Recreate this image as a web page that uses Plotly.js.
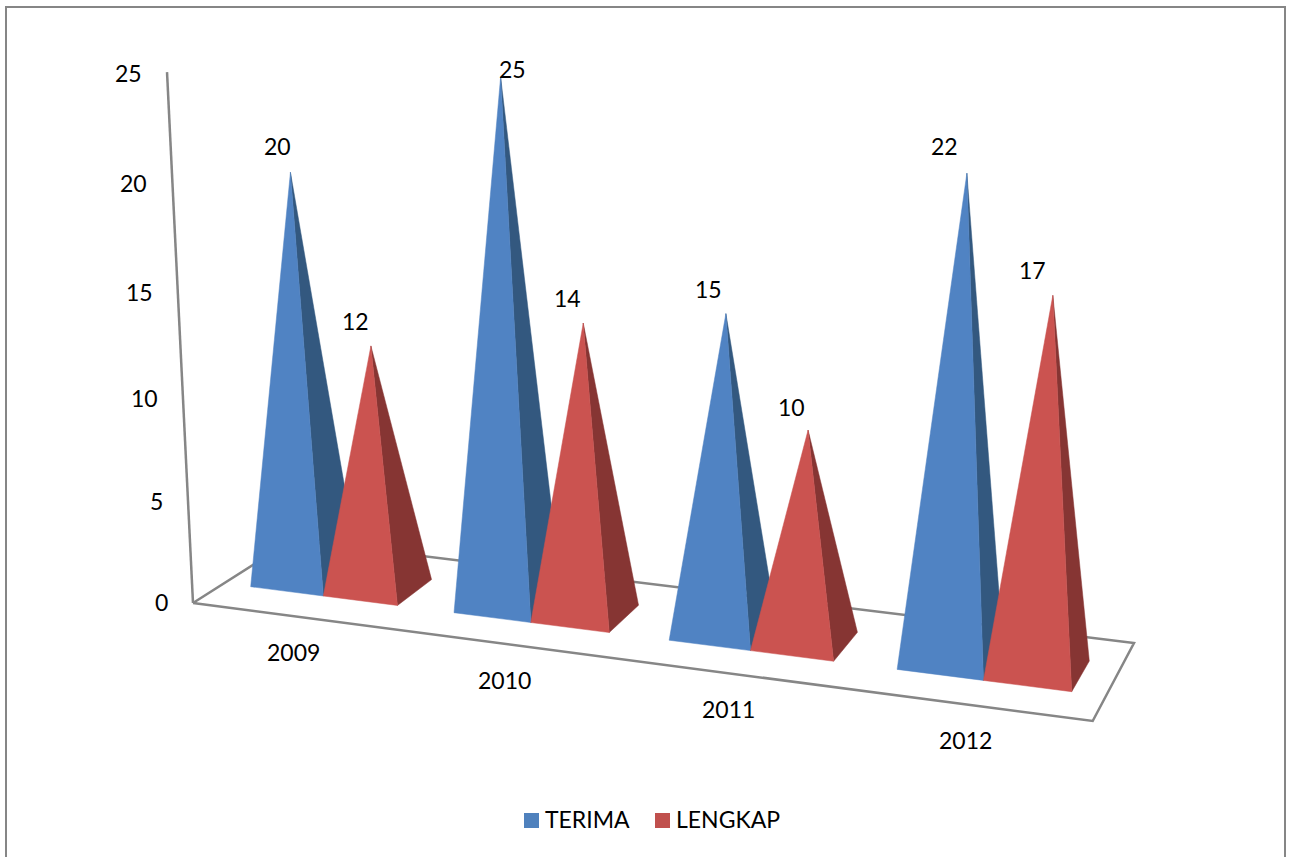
<!DOCTYPE html>
<html>
<head>
<meta charset="utf-8">
<script src="https://cdn.plot.ly/plotly-3.0.1.min.js"></script>
<style>html,body{margin:0;padding:0;background:#fff}#chart{width:1290px;height:857px}</style>
</head>
<body>
<div id="chart"></div>
<script>
// ---- data ----
const categories = ['2009', '2010', '2011', '2012'];
const terima = [20, 25, 15, 22];
const lengkap = [12, 14, 10, 17];
const valueTicks = [0, 5, 10, 15, 20, 25];

// ---- style / geometry of the 3-D view ----
const seriesStyle = [
  {name: 'TERIMA', front: '#5083C3', side: '#33587F', key: '#4F81BD', keyX: 531.5, textX: 544},
  {name: 'LENGKAP', front: '#CB5350', side: '#863533', key: '#C0504D', keyX: 662.5, textX: 675}
];
const legendY = 820.5;
const gridColor = '#868686';
const textFont = {family: 'Lato, sans-serif', size: 23, color: '#000000'};
// floor corners on the page (front-left, front-right, back-right, back-left)
const floor = [[193, 603], [1092.7, 721], [1134, 643], [292, 540]];
// footprint of the pyramid rows on the page, same corner order
const footprint = [[250.7, 586.7], [1071.7, 691.7], [1089.3, 661], [288, 561.8]];
const verticalVanish = [646, 9858];
const floorZScale = -0.00217;
const pyramidZScale = -0.002115;
const gapRatio = 0.75;
// label offsets from the pyramid tip, per category and series
const tipLabelDx = [[-13, -15], [12, -16], [-17, -17], [-22, -20]];
const tipLabelDy = [[-26, -25], [-8, -25], [-25, -23], [-27, -25]];
const categoryDx = [-2, -5, -5, -4];

// ---- perspective projection (homography of a floor quad + vertical vanishing point) ----
function makeProjector(q, k) {
  const [p0, p1, p2, p3] = q;
  const dx1 = p1[0] - p2[0], dx2 = p3[0] - p2[0], sx = p0[0] - p1[0] + p2[0] - p3[0];
  const dy1 = p1[1] - p2[1], dy2 = p3[1] - p2[1], sy = p0[1] - p1[1] + p2[1] - p3[1];
  const det = dx1 * dy2 - dx2 * dy1;
  const g = (sx * dy2 - dx2 * sy) / det;
  const h = (dx1 * sy - sx * dy1) / det;
  return function (u, v, z) {
    const zk = z * k;
    const X = p0[0] + (p1[0] - p0[0] + g * p1[0]) * u + (p3[0] - p0[0] + h * p3[0]) * v + zk * verticalVanish[0];
    const Y = p0[1] + (p1[1] - p0[1] + g * p1[1]) * u + (p3[1] - p0[1] + h * p3[1]) * v + zk * verticalVanish[1];
    const W = 1 + g * u + h * v + zk;
    return [X / W, Y / W];
  };
}
const project = makeProjector(floor, floorZScale);
const projectPyramid = makeProjector(footprint, pyramidZScale);

function polyTrace(points, color) {
  const pts = points.concat([points[0]]);
  return {
    type: 'scatter', mode: 'lines', x: pts.map(p => p[0]), y: pts.map(p => p[1]),
    fill: 'toself', fillcolor: color, line: {color: color, width: 0.5},
    hoverinfo: 'skip', showlegend: false
  };
}
function lineTrace(points) {
  return {
    type: 'scatter', mode: 'lines', x: points.map(p => p[0]), y: points.map(p => p[1]),
    line: {color: gridColor, width: 2.5}, hoverinfo: 'skip', showlegend: false
  };
}

const traces = [];
const annotations = [];
function label(text, x, y, anchor) {
  annotations.push({text: text, x: x, y: y, xref: 'x', yref: 'y', showarrow: false,
    xanchor: anchor || 'center', yanchor: 'middle', font: textFont, borderpad: 0});
}

// floor and value axis
traces.push(lineTrace([project(0, 0, 0), project(1, 0, 0), project(1, 1, 0), project(0, 1, 0), project(0, 0, 0)]));
traces.push(lineTrace([project(0, 0, 0), project(0, 0, Math.max.apply(null, valueTicks))]));

valueTicks.forEach(t => {
  const p = project(0, 0, t);
  label(String(t), p[0] - 24, p[1] + (t === 25 ? 1 : 0) - (t === 0 ? 1 : 0), 'right');
});

// pyramids
const pw = 1 / (categories.length * 2 + (categories.length - 1) * gapRatio);
const series = [terima, lengkap];
categories.forEach((c, i) => {
  const start = i * pw * (2 + gapRatio);
  series.forEach((vals, s) => {
    const uL = start + s * pw, uR = uL + pw, uM = uL + pw / 2;
    const FL = projectPyramid(uL, 0, 0), FR = projectPyramid(uR, 0, 0), BR = projectPyramid(uR, 1, 0);
    const tip = projectPyramid(uM, 0.5, vals[i]);
    traces.push(polyTrace([FR, BR, tip], seriesStyle[s].side));
    traces.push(polyTrace([FL, FR, tip], seriesStyle[s].front));
    label(String(vals[i]), tip[0] + tipLabelDx[i][s], tip[1] + tipLabelDy[i][s]);
  });
  const base = project((i + 0.5) / categories.length, 0, 0);
  label(c, base[0] + categoryDx[i], base[1] + 35.5);
});

// legend keys and names
seriesStyle.forEach(st => {
  traces.push({type: 'scatter', mode: 'markers', name: st.name, x: [st.keyX], y: [legendY],
    marker: {symbol: 'square', size: 15, color: st.key}, hoverinfo: 'skip', showlegend: false});
  label(st.name, st.textX, legendY - 2, 'left');
});

const layout = {
  width: 1290, height: 857,
  margin: {l: 0, r: 0, t: 0, b: 0},
  paper_bgcolor: '#ffffff', plot_bgcolor: '#ffffff',
  xaxis: {range: [0, 1290], visible: false, fixedrange: true},
  yaxis: {range: [857, 0], visible: false, fixedrange: true},
  showlegend: false,
  annotations: annotations,
  shapes: [
    {type: 'path', xref: 'x', yref: 'y', path: 'M6,870 L6,7 L1285,7 L1285,870',
     line: {color: gridColor, width: 2}}
  ]
};
Plotly.newPlot('chart', traces, layout, {displayModeBar: false, staticPlot: true});
</script>
</body>
</html>
